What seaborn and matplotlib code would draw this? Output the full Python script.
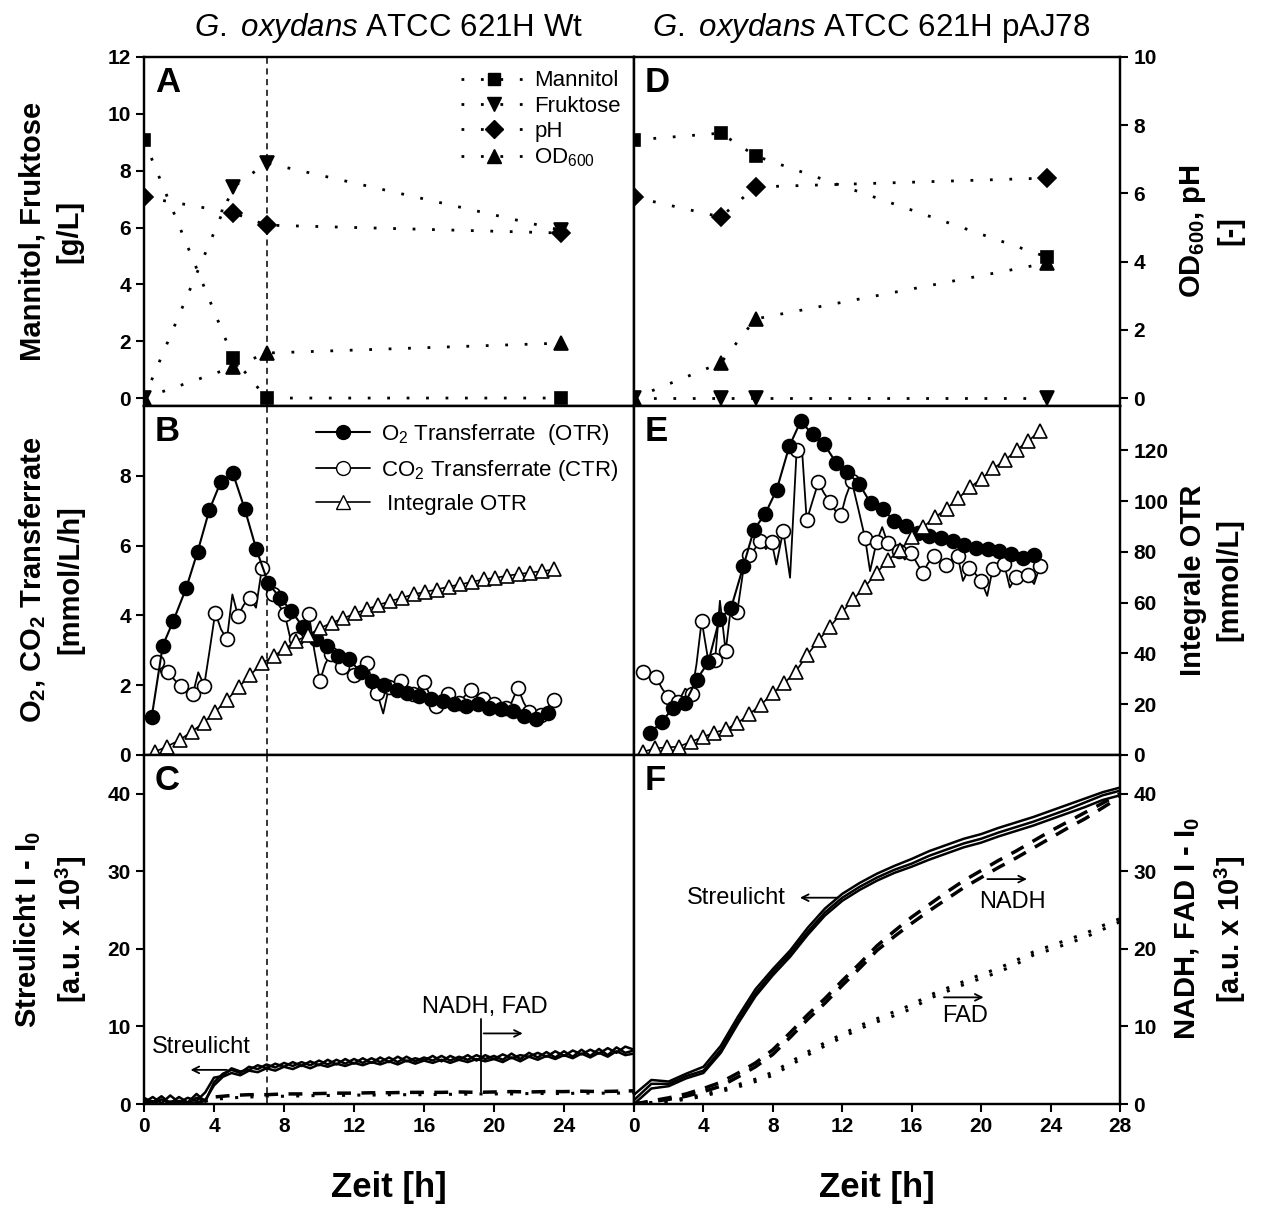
import numpy as np
import matplotlib
matplotlib.use("Agg")
import matplotlib.pyplot as plt
import seaborn as sns
from matplotlib.lines import Line2D

# --- Daten: Probenahme (A / D) ---
t_probe_wt = [0, 5.1, 7, 23.8]
t_probe_aj = [0, 5, 7, 23.8]
mannitol_wt = [9.08, 1.41, 0.0, 0.0]
fruktose_wt = [0.0, 7.42, 8.27, 5.91]
ph_wt = [5.89, 5.43, 5.07, 4.84]
od_wt = [0.0, 0.91, 1.32, 1.61]
mannitol_aj = [9.08, 9.32, 8.52, 4.96]
fruktose_aj = [0.0, 0.0, 0.0, 0.0]
ph_aj = [5.89, 5.31, 6.19, 6.45]
od_aj = [0.0, 1.03, 2.32, 3.96]

# --- Daten: RAMOS (B / E) ---
t_otr_wt = [0.44, 1.07, 1.68, 2.41, 3.06, 3.74, 4.39, 5.08, 5.75, 6.42, 7.09, 7.75, 8.42, 9.09,
            9.8, 10.47, 11.1, 11.71, 12.38, 13.05, 13.71, 14.44, 15.05, 15.72, 16.39, 17.06,
            17.73, 18.4, 19.07, 19.73, 20.4, 21.07, 21.74, 22.41, 23.08]
otr_wt = [1.09, 3.13, 3.85, 4.78, 5.82, 7.03, 7.83, 8.07, 7.06, 5.89, 4.94, 4.51, 4.13, 3.66,
          3.32, 3.11, 2.85, 2.75, 2.37, 2.12, 2.0, 1.87, 1.77, 1.68, 1.61, 1.55, 1.47, 1.40,
          1.45, 1.36, 1.33, 1.26, 1.11, 1.02, 1.21]
t_ctr_wt = [0.76, 1.07, 1.39, 1.75, 2.1, 2.45, 2.79, 3.1, 3.44, 3.75, 4.07, 4.4, 4.74, 5.05,
            5.37, 5.7, 6.04, 6.4, 6.74, 7.05, 7.37, 7.7, 8.04, 8.38, 8.71, 9.05, 9.42, 9.73,
            10.05, 10.35, 10.66, 11.0, 11.33, 11.67, 12.0, 12.36, 12.72, 13.0, 13.33, 13.67,
            14.0, 14.35, 14.71, 15.0, 15.35, 15.67, 16.0, 16.35, 16.68, 17.0, 17.35, 17.67,
            18.0, 18.35, 18.68, 19.0, 19.35, 19.67, 20.0, 20.35, 20.7, 21.0, 21.36, 21.7,
            22.02, 22.35, 22.7, 23.05, 23.42]
ctr_wt = [2.66, 2.25, 2.37, 2.15, 1.97, 1.85, 1.74, 2.37, 1.99, 3.0, 4.08, 3.6, 3.32, 4.6,
          3.99, 4.3, 4.51, 4.22, 5.36, 5.0, 4.62, 4.3, 4.04, 3.3, 3.32, 3.7, 4.05, 3.0,
          2.12, 2.6, 2.90, 2.7, 2.52, 2.4, 2.28, 2.45, 2.63, 2.2, 1.77, 1.19,
          1.95, 2.0, 2.11, 1.8, 1.75, 1.9, 2.09, 1.7, 1.40, 1.6, 1.76, 1.6,
          1.5, 1.7, 1.85, 1.7, 1.61, 1.5, 1.45, 1.4, 1.35, 1.5, 1.93, 1.5,
          1.23, 1.2, 1.15, 1.35, 1.57]
t_int_wt = [0.63, 1.3, 2.03, 2.73, 3.4, 4.07, 4.74, 5.41, 6.07, 6.74, 7.41, 8.08, 8.71, 9.38,
            10.05, 10.72, 11.39, 12.05, 12.72, 13.39, 14.06, 14.73, 15.4, 16.07, 16.73, 17.4,
            18.07, 18.74, 19.41, 20.07, 20.74, 21.42, 22.08, 22.75, 23.42]
int_wt = [1.3, 3.3, 5.9, 9.2, 12.7, 17.0, 21.7, 26.7, 31.5, 36.1, 39.0, 42.0, 45.0, 47.2,
          49.9, 52.1, 53.8, 55.8, 57.4, 59.1, 60.6, 61.9, 63.3, 64.3, 65.2, 66.3, 67.2,
          68.2, 69.2, 69.8, 70.6, 71.3, 71.9, 72.4, 73.1]

t_otr_aj = [0.92, 1.59, 2.27, 2.94, 3.61, 4.28, 4.92, 5.59, 6.3, 6.91, 7.55, 8.22, 8.95, 9.6,
            10.29, 10.96, 11.64, 12.29, 12.98, 13.63, 14.33, 14.99, 15.67, 16.34, 17.01,
            17.68, 18.36, 19.03, 19.7, 20.37, 21.04, 21.72, 22.39, 23.04]
otr_aj = [0.62, 0.95, 1.36, 1.49, 2.16, 2.66, 3.89, 4.21, 5.41, 6.46, 6.9, 7.6, 8.85, 9.56,
          9.19, 8.9, 8.38, 8.1, 7.76, 7.22, 7.06, 6.70, 6.55, 6.36, 6.27, 6.22, 6.14, 6.01,
          5.93, 5.89, 5.84, 5.76, 5.65, 5.73]
t_ctr_aj = [0.54, 0.9, 1.27, 1.62, 1.98, 2.27, 2.55, 2.95, 3.32, 3.6, 3.9, 4.28, 4.67, 4.95,
            5.28, 5.6, 5.95, 6.3, 6.64, 6.95, 7.26, 7.6, 7.93, 8.2, 8.6, 8.99, 9.37, 9.7,
            9.95, 10.3, 10.62, 10.95, 11.29, 11.6, 11.92, 12.2, 12.54, 12.9, 13.31, 13.6,
            13.98, 14.3, 14.61, 14.95, 15.28, 15.6, 15.96, 16.3, 16.63, 16.95, 17.3, 17.6,
            17.97, 18.3, 18.65, 18.95, 19.31, 19.65, 19.99, 20.35, 20.66, 21.0, 21.33, 21.65,
            22.0, 22.35, 22.7, 23.05, 23.39]
ctr_aj = [2.37, 2.3, 2.23, 1.9, 1.66, 1.55, 1.52, 1.9, 1.76, 2.6, 3.85, 2.7, 2.71, 4.42,
          2.97, 4.3, 4.11, 5.3, 5.73, 5.9, 6.13, 5.9, 6.11, 5.46, 6.43, 5.08, 8.74, 8.6,
          6.72, 7.3, 7.81, 7.5, 7.26, 7.0, 6.87, 7.4, 7.85, 7.1, 6.22, 5.27,
          6.11, 6.53, 6.08, 5.9, 5.84, 5.6, 5.79, 5.5, 5.22, 5.5, 5.70, 5.6,
          5.44, 5.6, 5.70, 4.99, 5.35, 5.2, 5.0, 4.56, 5.32, 5.4, 5.46, 4.8,
          5.10, 5.2, 5.15, 4.9, 5.41]
t_int_aj = [0.54, 1.21, 1.88, 2.59, 3.26, 3.96, 4.61, 5.3, 5.95, 6.64, 7.3, 7.99, 8.64, 9.31,
            9.98, 10.67, 11.29, 12.0, 12.63, 13.31, 13.98, 14.65, 15.32, 16.0, 16.67, 17.34,
            18.01, 18.68, 19.35, 20.03, 20.7, 21.37, 22.04, 22.71, 23.39]
int_aj = [1.3, 2.6, 3.0, 3.3, 5.2, 7.0, 8.8, 10.1, 12.5, 16.1, 19.7, 24.3, 28.2, 32.8,
          39.4, 45.5, 50.5, 56.4, 61.3, 66.3, 71.8, 76.8, 80.7, 85.7, 89.9, 93.6, 97.1,
          101.1, 105.4, 108.9, 112.9, 116.1, 120.1, 123.7, 127.7]

# --- Daten: BioLector (C / F) ---
t_half = [0, 0.5, 1, 1.5, 2, 2.5, 3, 3.5, 4, 4.5, 5, 5.5, 6, 6.5, 7, 7.5, 8, 8.5, 9, 9.5,
          10, 10.5, 11, 11.5, 12, 12.5, 13, 13.5, 14, 14.5, 15, 15.5, 16, 16.5, 17, 17.5,
          18, 18.5, 19, 19.5, 20, 20.5, 21, 21.5, 22, 22.5, 23, 23.5, 24, 24.5, 25, 25.5,
          26, 26.5, 27, 27.5, 28]
streu_wt_1 = [0.8, 0.2, 1.0, 0.1, 0.9, 0.2, 1.3, 0.3,
              2.8, 3.9, 4.4, 4.0, 4.8, 4.5, 5.1, 4.7, 5.3, 4.9, 5.4, 5.0, 5.6, 5.1, 5.7, 5.2,
              5.8, 5.3, 5.9, 5.4, 6.0, 5.4, 6.1, 5.5, 6.0, 5.6, 6.2, 5.6, 6.1, 5.7, 6.3, 5.8,
              6.2, 5.7, 6.5, 5.8, 6.6, 6.0, 6.7, 6.0, 6.8, 6.1, 7.0, 6.2, 7.1, 6.3, 7.3, 6.6, 6.9]
streu_wt_2 = [0.2, 0.9, 0.1, 1.1, 0.2, 0.8, 0.4, 1.5,
              3.4, 3.6, 4.6, 4.2, 4.4, 5.0, 4.6, 5.2, 4.8, 5.4, 4.9, 5.5, 5.0, 5.7, 5.1, 5.8,
              5.2, 5.9, 5.3, 6.0, 5.4, 6.1, 5.5, 5.9, 5.6, 6.2, 5.5, 6.2, 5.7, 6.3, 5.6, 6.3,
              5.8, 6.4, 5.9, 6.3, 6.1, 6.6, 6.1, 6.8, 6.2, 6.9, 6.4, 7.0, 6.5, 7.2, 6.6, 7.4, 7.0]
streu_wt_3 = [0.5, 0.0, 0.6, 0.0, 0.4, 0.1, 0.8, 0.5,
              2.4, 3.5, 4.0, 3.7, 4.3, 4.1, 4.6, 4.3, 4.8, 4.5, 5.0, 4.6, 5.1, 4.8, 5.2, 4.9,
              5.3, 5.0, 5.4, 5.1, 5.5, 5.1, 5.6, 5.2, 5.6, 5.3, 5.7, 5.3, 5.7, 5.4, 5.8, 5.5,
              5.8, 5.4, 6.0, 5.5, 6.1, 5.7, 6.2, 5.8, 6.3, 5.9, 6.5, 6.0, 6.6, 6.1, 6.8, 6.3, 6.5]

t_h = [0, 1, 2, 3, 4, 5, 6, 7, 8, 9, 10, 11, 12, 13, 14, 15, 16, 17, 18, 19, 20, 21, 22,
       23, 24, 25, 26, 27, 28]
nadh_wt = [0.4, 0.2, 0.3, 0.1, 0.9, 1.1, 1.2, 1.2, 1.3, 1.3, 1.35, 1.4, 1.4, 1.45, 1.45,
           1.5, 1.5, 1.5, 1.55, 1.5, 1.55, 1.6, 1.55, 1.6, 1.6, 1.65, 1.6, 1.65, 1.7]
fad_wt = [0.2, 0.1, 0.2, 0.1, 0.6, 0.8, 0.9, 1.0, 1.0, 1.05, 1.1, 1.1, 1.15, 1.15, 1.2,
          1.2, 1.2, 1.25, 1.25, 1.3, 1.3, 1.3, 1.35, 1.35, 1.35, 1.4, 1.4, 1.4, 1.45]

streu_aj_1 = [0.5, 2.6, 2.6, 3.6, 4.3, 7.0, 10.8, 14.3, 17.0, 19.4, 22.2, 24.7, 26.6, 28.0,
              29.2, 30.2, 31.0, 32.0, 32.8, 33.6, 34.2, 35.0, 35.7, 36.4, 37.2, 38.0, 38.9,
              39.8, 40.4]
streu_aj_2 = [1.2, 3.1, 2.9, 3.9, 4.8, 7.5, 11.3, 14.8, 17.4, 19.8, 22.7, 25.2, 27.1, 28.5,
              29.7, 30.7, 31.6, 32.6, 33.4, 34.2, 34.8, 35.6, 36.3, 37.0, 37.8, 38.6, 39.4,
              40.2, 40.8]
streu_aj_3 = [0.0, 2.0, 2.3, 3.3, 4.0, 6.6, 10.4, 13.9, 16.6, 19.0, 21.8, 24.3, 26.2, 27.6,
              28.8, 29.8, 30.6, 31.5, 32.3, 33.1, 33.7, 34.5, 35.2, 35.9, 36.7, 37.5, 38.3,
              39.2, 39.8]
nadh_aj_1 = [0.0, 0.3, 0.6, 1.0, 1.6, 2.3, 3.5, 4.8, 6.4, 8.6, 10.9, 13.0, 15.3, 17.5, 19.8,
             21.6, 23.3, 24.9, 26.4, 27.9, 29.2, 30.5, 31.7, 33.0, 34.3, 35.6, 36.8, 38.2, 39.6]
nadh_aj_2 = [0.0, 0.4, 0.8, 1.3, 2.0, 2.8, 4.0, 5.3, 7.0, 9.2, 11.5, 13.6, 15.9, 18.1, 20.4,
             22.3, 24.1, 25.7, 27.3, 28.8, 30.1, 31.4, 32.6, 33.9, 35.2, 36.4, 37.6, 38.8, 40.0]
fad_aj_1 = [0.0, 0.1, 0.3, 0.6, 1.0, 1.6, 2.2, 2.9, 3.7, 5.0, 6.3, 7.5, 8.6, 9.7, 10.6, 11.4,
            12.3, 13.6, 14.5, 15.4, 16.2, 17.0, 18.0, 19.2, 19.9, 20.7, 21.5, 22.5, 23.5]
fad_aj_2 = [0.0, 0.2, 0.4, 0.8, 1.2, 1.8, 2.5, 3.2, 4.1, 5.4, 6.7, 7.9, 9.0, 10.1, 11.0, 11.9,
            12.8, 14.0, 14.9, 15.8, 16.7, 17.5, 18.5, 19.6, 20.4, 21.2, 22.0, 23.0, 23.9]

# Stil
sns.set_theme(style='ticks')
plt.rcParams['font.family'] = ['Liberation Sans', 'DejaVu Sans']
plt.rcParams['mathtext.fontset'] = 'custom'
plt.rcParams['mathtext.rm'] = 'Liberation Sans'
plt.rcParams['mathtext.it'] = 'Liberation Sans:italic'
plt.rcParams['mathtext.bf'] = 'Liberation Sans:bold'
plt.rcParams['mathtext.default'] = 'regular'
plt.rcParams['axes.linewidth'] = 1.6
for key in ['text.color', 'axes.labelcolor', 'xtick.color', 'ytick.color', 'axes.edgecolor']:
    plt.rcParams[key] = 'black'

W, H = 1274, 1205
fig = plt.figure(figsize=(W / 100, H / 100), dpi=100)


def px_axes(x0, y0, x1, y1):
    return fig.add_axes([x0 / W, 1 - y1 / H, (x1 - x0) / W, (y1 - y0) / H])


rows = [(57, 406), (406, 755), (755, 1104)]
cols = [(144, 634), (634, 1120)]

dotted = (0, (1, 6))
K = 'black'


def line(ax, x, y, **kw):
    kw.setdefault('color', K)
    kw.setdefault('markeredgecolor', K)
    kw.setdefault('markeredgewidth', 1.2)
    sns.lineplot(x=x, y=y, ax=ax, sort=False, estimator=None, legend=False, **kw)


def setup(ax, twin, row, col):
    ax.set_xlim(0, 28)
    ax.set_xticks(range(0, 29, 4))
    ax.tick_params(axis='both', direction='out', length=6, width=1.5, labelsize=15)
    twin.tick_params(axis='both', direction='out', length=6, width=1.5, labelsize=15)
    if row < 2:
        ax.tick_params(axis='x', bottom=False, labelbottom=False)
    else:
        if col == 0:
            ax.set_xticklabels([str(v) for v in range(0, 25, 4)] + [''])
    if col == 0:
        twin.tick_params(axis='y', right=False, labelright=False)
    else:
        ax.tick_params(axis='y', left=False, labelleft=False)
    for a in (ax, twin):
        for sp in a.spines.values():
            sp.set_linewidth(1.6)
            sp.set_color(K)
        a.set_xlabel('')
        a.set_ylabel('')
    for lab in ax.get_xticklabels() + ax.get_yticklabels() + twin.get_yticklabels():
        lab.set_fontweight('bold')


letters = [['A', 'B', 'C'], ['D', 'E', 'F']]
axes = {}
for c, (x0, x1) in enumerate(cols):
    for r, (y0, y1) in enumerate(rows):
        ax = px_axes(x0, y0, x1, y1)
        tw = ax.twinx()
        axes[(r, c)] = (ax, tw)

# --- A / D ---
for c, (t, man, fru, ph, od) in enumerate([(t_probe_wt, mannitol_wt, fruktose_wt, ph_wt, od_wt),
                                            (t_probe_aj, mannitol_aj, fruktose_aj, ph_aj, od_aj)]):
    ax, tw = axes[(0, c)]
    line(ax, t, man, linestyle=dotted, lw=2, marker='s', markersize=9, label='Mannitol')
    line(ax, t, fru, linestyle=dotted, lw=2, marker='v', markersize=10, label='Fruktose')
    line(tw, t, ph, linestyle=dotted, lw=2, marker='D', markersize=9, label='pH')
    line(tw, t, od, linestyle=dotted, lw=2, marker='^', markersize=10, label='OD$_{600}$')
    ax.set_ylim(-0.28, 12)
    tw.set_ylim(-0.233, 10)
    ax.set_yticks(range(0, 13, 2))
    tw.set_yticks(range(0, 11, 2))

# --- B / E ---
for c, (to, o, tc, ct, ti, it) in enumerate([(t_otr_wt, otr_wt, t_ctr_wt, ctr_wt, t_int_wt, int_wt),
                                             (t_otr_aj, otr_aj, t_ctr_aj, ctr_aj, t_int_aj, int_aj)]):
    ax, tw = axes[(1, c)]
    line(tw, ti, it, lw=1.2, marker='^', markersize=10, markerfacecolor='white')
    line(ax, tc, ct, lw=1.3, marker='o', markersize=10, markerfacecolor='white', markevery=2)
    line(ax, to, o, lw=1.5, marker='o', markersize=10, markerfacecolor=K)
    ax.set_ylim(0, 10)
    tw.set_ylim(0, 137.5)
    ax.set_yticks(range(0, 9, 2))
    tw.set_yticks(range(0, 121, 20))

# --- C / F ---
ax, tw = axes[(2, 0)]
for s in (streu_wt_1, streu_wt_2, streu_wt_3):
    line(ax, t_half, s, lw=1.8)
line(tw, t_h, nadh_wt, lw=2.5, linestyle=(0, (4, 3)))
line(tw, t_h, fad_wt, lw=2.2, linestyle=(0, (1, 4)))
ax, tw = axes[(2, 1)]
for s in (streu_aj_1, streu_aj_2, streu_aj_3):
    line(ax, t_h, s, lw=1.8)
for s in (nadh_aj_1, nadh_aj_2):
    line(tw, t_h, s, lw=2.5, linestyle=(0, (4, 3)))
for s in (fad_aj_1, fad_aj_2):
    line(tw, t_h, s, lw=2.2, linestyle=(0, (1, 4)))
for c in (0, 1):
    ax, tw = axes[(2, c)]
    ax.set_ylim(0, 45)
    tw.set_ylim(0, 45)
    ax.set_yticks(range(0, 41, 10))
    tw.set_yticks(range(0, 41, 10))

# Setup aller Achsen
for (r, c), (ax, tw) in axes.items():
    setup(ax, tw, r, c)
    tw.text(0.022, 0.975, letters[c][r], transform=ax.transAxes, fontsize=25,
            fontweight='bold', va='top', ha='left')
    if c == 0:
        ax.axvline(7, color=K, lw=1.1, linestyle=(0, (4, 3)), zorder=0)

# Legenden
ax, tw = axes[(0, 0)]
h_a = [Line2D([], [], color=K, linestyle=dotted, lw=2, marker=m, markersize=ms, markeredgecolor=K)
       for m, ms in [('s', 9), ('v', 10), ('D', 9), ('^', 10)]]
tw.legend(h_a, ['Mannitol', 'Fruktose', 'pH', 'OD$_{600}$'], loc='upper right',
          bbox_to_anchor=(1.0, 1.0), frameon=False, fontsize=16, handlelength=3.0,
          labelspacing=0.2, handletextpad=0.3, borderaxespad=0.2)
ax, tw = axes[(1, 0)]
h_b = [Line2D([], [], color=K, lw=1.5, marker='o', markersize=10, markerfacecolor=K),
       Line2D([], [], color=K, lw=1.3, marker='o', markersize=10, markerfacecolor='white'),
       Line2D([], [], color=K, lw=1.2, marker='^', markersize=10, markerfacecolor='white')]
tw.legend(h_b, ['O$_2$ Transferrate  (OTR)', 'CO$_2$ Transferrate (CTR)', ' Integrale OTR'],
          loc='upper right', bbox_to_anchor=(1.0, 1.0), frameon=False, fontsize=16,
          handlelength=2.4, labelspacing=0.5, handletextpad=0.5, borderaxespad=0.3)

# Annotationen
arrow = dict(arrowstyle='->', color=K, lw=1.3)
ax, tw = axes[(2, 0)]
ax.text(3.3, 7.3, 'Streulicht', fontsize=17, ha='center', va='center')
ax.annotate('', xy=(2.5, 4.4), xytext=(4.9, 4.4), arrowprops=arrow)
ax.text(19.5, 12.5, 'NADH, FAD', fontsize=17, ha='center', va='center')
ax.plot([19.25, 19.25], [1.5, 11.0], color=K, lw=1.3)
ax.annotate('', xy=(21.8, 9.1), xytext=(19.25, 9.1), arrowprops=arrow)
ax, tw = axes[(2, 1)]
ax.text(5.9, 26.5, 'Streulicht', fontsize=17, ha='center', va='center')
ax.annotate('', xy=(9.4, 26.6), xytext=(11.9, 26.6), arrowprops=arrow)
ax.text(21.8, 26.1, 'NADH', fontsize=17, ha='center', va='center')
ax.annotate('', xy=(22.8, 29.0), xytext=(20.2, 29.0), arrowprops=arrow)
ax.text(19.1, 11.4, 'FAD', fontsize=17, ha='center', va='center')
ax.annotate('', xy=(20.3, 13.75), xytext=(17.7, 13.75), arrowprops=arrow)

# Achsentitel
lab = dict(rotation=90, ha='center', va='center', fontsize=21, fontweight='bold',
           linespacing=1.4, multialignment='center')
fig.text(51 / W, 1 - 231 / H, 'Mannitol, Fruktose\n[g/L]', **lab)
fig.text(51 / W, 1 - 580 / H, 'O$_2$, CO$_2$ Transferrate\n[mmol/L/h]', **lab)
fig.text(51 / W, 1 - 929 / H, 'Streulicht I - I$_0$\n[a.u. x 10$^3$]', **lab)
fig.text(1211 / W, 1 - 231 / H, 'OD$_{600}$, pH\n[-]', **lab)
fig.text(1211 / W, 1 - 580 / H, 'Integrale OTR\n[mmol/L]', **lab)
fig.text(1211 / W, 1 - 929 / H, 'NADH, FAD I - I$_0$\n[a.u. x 10$^3$]', **lab)

fig.text(389 / W, 1 - 1188 / H, 'Zeit [h]', ha='center', va='center', fontsize=25, fontweight='bold')
fig.text(877 / W, 1 - 1188 / H, 'Zeit [h]', ha='center', va='center', fontsize=25, fontweight='bold')

fig.text(389 / W, 1 - 28 / H, r'$\it{G.}$ $\it{oxydans}$ ATCC 621H Wt', ha='center', va='center', fontsize=22.5)
fig.text(871 / W, 1 - 28 / H, r'$\it{G.}$ $\it{oxydans}$ ATCC 621H pAJ78', ha='center', va='center', fontsize=22.5)

fig.savefig('out.png', dpi=100)
